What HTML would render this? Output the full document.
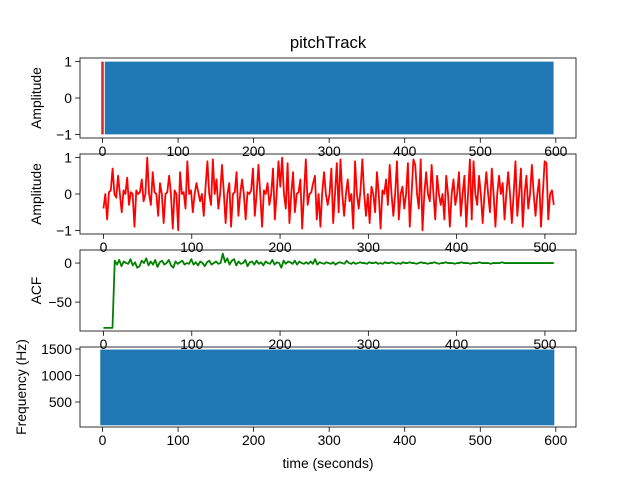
<!DOCTYPE html>
<html><head><meta charset="utf-8"><style>
body{margin:0;background:#fff}
svg{display:block;font-family:"Liberation Sans","DejaVu Sans",sans-serif}
</style></head><body>
<svg id="fig" width="640" height="480" viewBox="0 0 640 480">
<rect width="640" height="480" fill="#fff"/>
<text x="328" y="48" font-size="16.7" text-anchor="middle" fill="#000">pitchTrack</text>
</svg>
<script>
// ---- data ----
const audioXRange = [0, 597];
const audioYRange = [-1, 1];
const signalEnd = 510;
const signalValues = [-0.4,0.0,-0.7,0.05,0.1,0.7,0.0,-0.1,0.5,0.0,-0.5,0.1,0.0,0.45,-0.3,0.05,0.0,-0.9,0.1,0.0,0.05,0.4,-0.2,0.0,1.0,0.0,-0.3,0.6,0.05,0.0,-0.6,0.3,0.0,-0.8,0.0,0.05,0.5,0.0,-0.95,0.1,0.0,-1.0,0.6,0.0,0.05,-0.4,0.9,0.0,0.1,-0.5,0.0,0.3,0.05,-0.2,0.0,-0.6,0.2,0.9,0.0,-0.3,0.95,0.0,0.4,-0.4,0.0,0.8,0.05,-0.8,0.0,0.3,-0.9,0.0,0.05,0.6,-0.6,0.0,0.4,0.0,-0.7,0.05,0.0,0.1,0.7,-0.6,0.0,0.8,0.0,-0.9,0.1,0.0,0.3,-0.3,0.0,0.7,-0.7,0.0,0.9,0.2,1.0,0.0,-0.4,0.85,-0.8,0.0,0.6,-0.5,0.0,0.05,0.4,-0.95,0.0,0.95,-0.3,0.0,0.05,0.3,0.5,-0.7,0.0,-0.9,0.05,0.6,0.0,-0.3,0.0,0.7,-0.8,0.0,0.85,-0.5,0.95,0.0,-0.6,0.0,0.4,-0.2,0.0,-0.95,0.9,0.0,-0.4,0.1,0.95,0.0,-0.6,0.0,-0.8,0.2,0.0,-0.5,0.6,0.0,-0.95,0.1,0.0,0.4,-0.3,0.8,0.0,-0.6,0.0,0.9,-0.7,0.0,0.2,-0.4,0.0,0.85,-0.9,0.0,0.95,0.8,0.0,-0.4,0.95,-1.0,0.0,0.6,0.0,-0.2,0.8,0.0,-0.7,0.5,0.0,-0.3,0.0,-0.7,0.5,0.0,-0.9,0.0,0.4,-0.3,0.0,0.6,-0.6,0.0,0.5,-0.9,0.0,0.95,-0.7,0.9,0.0,-0.3,0.5,0.0,-0.8,0.0,0.6,0.0,-0.5,0.7,0.0,-0.9,0.0,0.5,0.0,0.3,-0.7,0.0,0.6,0.0,-0.8,0.0,0.9,-0.6,0.0,0.7,-0.9,0.0,0.5,-0.4,0.0,0.8,0.0,-0.6,0.0,0.4,-0.9,0.0,0.9,0.85,-0.7,0.0,0.1,-0.3];
const acfEnd = 510;
const acfValues = [-83,-83,-83,-83,-83,3,-2,4,-4,2,0,-1,5,-3,1,-6,-4,3,0,6,-3,2,-2,4,-5,1,3,-2,0,4,-3,-6,2,-1,1,3,-2,0,-1,5,-2,1,-3,2,0,-4,1,3,-2,0,2,-1,0,12,1,6,-2,3,5,-3,2,-1,0,4,-4,1,2,-2,3,-1,1,-3,2,0,-1,4,-2,1,0,-6,3,-1,2,1,-1,3,-2,2,0,-1,1,-1,2,-1,5,-2,1,0,-1,1,0,-1,1,-2,0,1,0,-1,3,0,-1,1,-1,0,1,0,0,-1,1,0,0,1,-1,0,-1,1,0,0,1,0,-1,0,-1,1,0,0,1,0,0,-1,0,1,0,0,-1,0,0,1,0,-1,0,0,1,0,0,0,-1,0,0,1,0,0,0,-1,0,0,0,1,0,0,0,0,-1,0,0,0,0,1,0,0,0,0,0,0,0,0,0,0,0,0,0,0,0,0,0,0,0,0,0,0,0];
const freqXRange = [-3, 598];
const freqYRange = [60, 1490];
const xTicksA = [0,100,200,300,400,500,600];
const xTicksB = [0,100,200,300,400,500];
const yTicksAmp = [-1,0,1];
const yTicksAcf = [-50,0];
const yTicksFreq = [500,1000,1500];

const svg = document.getElementById('fig');
const NS = 'http://www.w3.org/2000/svg';
function mk(tag, attrs, parent){const e=document.createElementNS(NS,tag);for(const k in attrs)e.setAttribute(k,attrs[k]);(parent||svg).appendChild(e);return e;}

function makeAxes(name, top, bottom, xmin, xmax, ymin, ymax, xticks, yticks, ylabel){
  const L=80,R=576;
  const ax={x:v=>L+(v-xmin)/(xmax-xmin)*(R-L), y:v=>bottom-(v-ymin)/(ymax-ymin)*(bottom-top)};
  const g=mk('g',{});
  
  
  ax.g=mk('g',{},g);
  const deco=mk('g',{},g);
  ax.finish=function(){
    const f=mk('rect',{x:L,y:top,width:R-L,height:bottom-top,fill:'none',stroke:'#000','stroke-width':0.8},deco);
    
    
    xticks.forEach(t=>{const X=ax.x(t);
      mk('line',{x1:X,x2:X,y1:bottom,y2:bottom+4.9,stroke:'#000','stroke-width':0.8},deco);
      const tx=mk('text',{x:X,y:bottom+18,'font-size':13.9,'text-anchor':'middle',fill:'#000'},deco);
      tx.textContent=t;
      
      
    });
    yticks.forEach(t=>{const Y=ax.y(t);
      mk('line',{x1:L-4.9,x2:L,y1:Y,y2:Y,stroke:'#000','stroke-width':0.8},deco);
      const tx=mk('text',{x:L-8,y:Y+5,'font-size':13.9,'text-anchor':'end',fill:'#000'},deco);
      tx.textContent=String(t).replace('-','\u2212');
      
      
    });
    const cy=(top+bottom)/2;
    const yl=mk('text',{x:0,y:0,'font-size':13.9,'text-anchor':'middle',fill:'#000',transform:`translate(${ylabel[1]},${cy}) rotate(-90)`},deco);
    yl.textContent=ylabel[0];
    
    
  };
  return ax;
}

// Axes 1: audio
const a1=makeAxes('audio-axes',58,138,-29.8,626.7,-1.1,1.1,xTicksA,yTicksAmp,['Amplitude',41]);
const r1=mk('rect',{x:a1.x(audioXRange[0]+3),y:a1.y(audioYRange[1]),width:a1.x(audioXRange[1])-a1.x(audioXRange[0]+3),height:a1.y(audioYRange[0])-a1.y(audioYRange[1]),fill:'#1f77b4'},a1.g);


const m1=mk('line',{x1:a1.x(0),x2:a1.x(0),y1:a1.y(1),y2:a1.y(-1),stroke:'#d62728','stroke-width':2.5},a1.g);


a1.finish();

// Axes 2: frame signal
const a2=makeAxes('frame-axes',154,234,-26.6,535.2,-1.1,1.1,xTicksB,yTicksAmp,['Amplitude',41]);
const sStep=signalEnd/(signalValues.length-1);
const p2=mk('polyline',{points:signalValues.map((v,i)=>a2.x(i*sStep)+','+a2.y(v)).join(' '),fill:'none',stroke:'#ff0000','stroke-width':1.8,'stroke-linejoin':'round'},a2.g);


a2.finish();

// Axes 3: ACF
const a3=makeAxes('acf-axes',250,331,-26.6,535.2,-87,16.7,xTicksB,yTicksAcf,['ACF',41]);
const aStep=acfEnd/(acfValues.length-1);
const p3=mk('polyline',{points:acfValues.map((v,i)=>a3.x(i*aStep)+','+a3.y(v)).join(' '),fill:'none',stroke:'#008000','stroke-width':1.8,'stroke-linejoin':'round'},a3.g);


a3.finish();

// Axes 4: frequency
const a4=makeAxes('frequency-axes',347,427,-29.8,626.7,28,1538,xTicksA,yTicksFreq,['Frequency (Hz)',26]);
const r4=mk('rect',{x:a4.x(freqXRange[0]),y:a4.y(freqYRange[1]),width:a4.x(freqXRange[1])-a4.x(freqXRange[0]),height:a4.y(freqYRange[0])-a4.y(freqYRange[1]),fill:'#1f77b4'},a4.g);


a4.finish();

const xl=mk('text',{x:328,y:468,'font-size':13.9,'text-anchor':'middle',fill:'#000'});
xl.textContent='time (seconds)';


</script>
</body></html>
